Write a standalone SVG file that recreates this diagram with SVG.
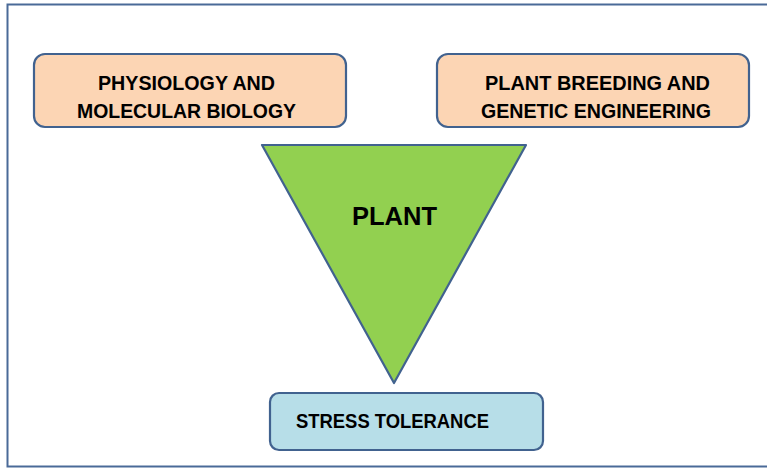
<svg xmlns="http://www.w3.org/2000/svg" width="767" height="468" viewBox="0 0 767 468">
<style>
.box{stroke:#41628f;stroke-width:2.2}
.peach{fill:#fcd5b4}
.blue{fill:#b7dee8}
.t{font-family:"Liberation Sans",Arial,sans-serif;font-weight:bold;fill:#000;text-anchor:middle}
</style>
<rect x="0" y="0" width="767" height="468" fill="#fff"/>
<rect x="7.5" y="4.5" width="800" height="462" fill="none" stroke="#4a6a98" stroke-width="2"/>
<g id="connectors"></g>
<g id="physiology">
<rect class="box peach" x="34" y="54" width="312" height="73" rx="11"/>
<text class="t" x="186.5" y="89.5" font-size="21" textLength="177" lengthAdjust="spacingAndGlyphs">PHYSIOLOGY AND</text>
<text class="t" x="186.5" y="117.5" font-size="21" textLength="219" lengthAdjust="spacingAndGlyphs">MOLECULAR BIOLOGY</text>
</g>
<g id="breeding">
<rect class="box peach" x="437" y="54" width="312" height="73" rx="11"/>
<text class="t" x="597.5" y="89.5" font-size="21" textLength="225" lengthAdjust="spacingAndGlyphs">PLANT BREEDING AND</text>
<text class="t" x="596" y="117.5" font-size="21" textLength="230" lengthAdjust="spacingAndGlyphs">GENETIC ENGINEERING</text>
</g>
<g id="plant">
<polygon points="262,145 526,145 394,383" fill="#92d050" stroke="#41628f" stroke-width="2.2" stroke-linejoin="round"/>
<text class="t" x="394.5" y="225" font-size="26" textLength="85" lengthAdjust="spacingAndGlyphs">PLANT</text>
</g>
<g id="stress">
<rect class="box blue" x="270" y="393" width="273" height="57" rx="9"/>
<text class="t" x="392.5" y="427.5" font-size="20" textLength="193" lengthAdjust="spacingAndGlyphs">STRESS TOLERANCE</text>
</g>
</svg>
